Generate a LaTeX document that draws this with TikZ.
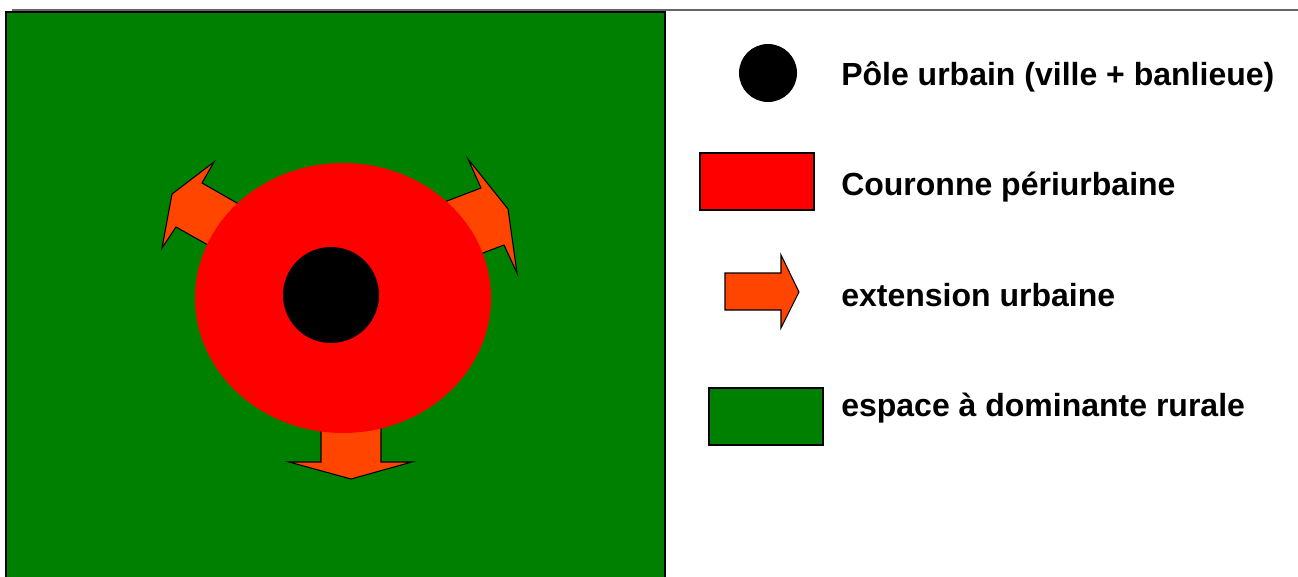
\documentclass[tikz,border=0pt]{standalone}
\usepackage{fontspec}
\setmainfont{Liberation Sans}
\usetikzlibrary{shapes.geometric}
\definecolor{rural}{HTML}{008000}
\definecolor{peri}{HTML}{FF0000}
\definecolor{ext}{HTML}{FF4500}
\tikzset{
  outl/.style={draw=black, line width=0.8pt, line join=miter},
  extarrow/.style={outl, fill=ext},
  legtext/.style={anchor=base west, inner sep=0pt, font=\fontsize{24}{28}\selectfont\bfseries},
}
\begin{document}
\begin{tikzpicture}[x=0.75pt, y=-0.75pt]
\useasboundingbox (0,0) rectangle (1298,577);
\fill[white] (0,0) rectangle (1298,577);
% top rule
\draw[gray!80!black, line width=0.8pt] (12,10) -- (1298,10);
% rural area
\draw[outl, fill=rural] (6,12) rectangle (665,590);
% extension arrows (under the ring)
\draw[extarrow] (214,162) -- (202,183) -- (272,223) -- (240,263) -- (176,227) -- (162,248) -- (172,194) -- cycle;
\draw[extarrow] (468,159) -- (508,209) -- (517,273) -- (504,245) -- (420,277) -- (413,214) -- (481,188) -- cycle;
\draw[extarrow] (321,380) -- (321,462) -- (289,462) -- (351,479) -- (412,462) -- (381,462) -- (381,380) -- cycle;
% ring and pole
\node[ellipse, fill=peri, minimum width=296*0.75pt, minimum height=270*0.75pt, inner sep=0pt] (couronne) at (343,298) {};
\node[circle, fill=black, minimum size=96*0.75pt, inner sep=0pt] (pole) at (331,295) {};
% legend
\node[circle, fill=black, minimum size=58*0.75pt, inner sep=0pt] (legpole) at (768,73) {};
\node[outl, fill=peri, minimum width=114*0.75pt, minimum height=57*0.75pt, inner sep=0pt] (legperi) at (757,181.5) {};
\draw[extarrow] (725,273) -- (781,273) -- (781,255) -- (799,292) -- (781,328) -- (781,310) -- (725,310) -- cycle;
\node[outl, fill=rural, minimum width=114*0.75pt, minimum height=57*0.75pt, inner sep=0pt] (legrural) at (766,416.5) {};
\node[legtext] (t1) at (841,86) {Pôle urbain (ville + banlieue)};
\node[legtext] (t2) at (841,196) {Couronne périurbaine};
\node[legtext] (t3) at (841,306) {extension urbaine};
\node[legtext] (t4) at (841,416) {espace à dominante rurale};
\end{tikzpicture}
\end{document}
